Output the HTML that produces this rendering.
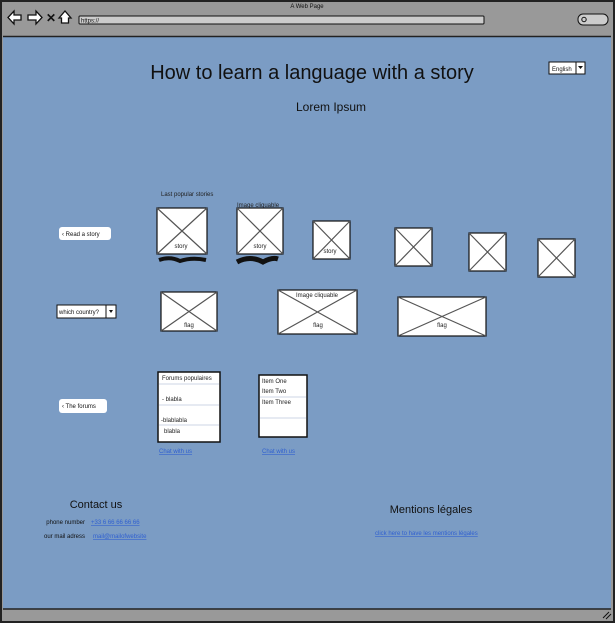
<!DOCTYPE html>
<html><head><meta charset="utf-8"><style>
html,body{margin:0;padding:0;background:#fff;width:615px;height:624px;overflow:hidden}
svg{display:block;font-family:"Liberation Sans",sans-serif}
</style></head><body>
<svg width="615" height="624" viewBox="0 0 615 624">
<rect x="1" y="1" width="613" height="621" fill="#999" stroke="#222" stroke-width="2"/>
<rect x="3" y="37" width="608" height="572" fill="#7b9cc4"/>
<line x1="3" y1="36.5" x2="611" y2="36.5" stroke="#222" stroke-width="1.5"/>
<line x1="3" y1="609" x2="611" y2="609" stroke="#222" stroke-width="1.5"/>
<text x="307" y="8" font-size="6" text-anchor="middle" fill="#111">A Web Page</text>
<path d="M8 17.5 L14 11 L14 15 L21 15 L21 20 L14 20 L14 24 Z" fill="#fff" stroke="#111" stroke-width="1.3"/>
<path d="M42 17.5 L36 11 L36 15 L28 15 L28 20 L36 20 L36 24 Z" fill="#fff" stroke="#111" stroke-width="1.3"/>
<text x="46" y="22" font-size="12" font-weight="bold" fill="#111">✕</text>
<path d="M59 18 L65 11 L71 18 L68.5 18 L68.5 23 L61.5 23 L61.5 18 Z" fill="#fff" stroke="#111" stroke-width="1.3"/>
<rect x="79" y="16" width="405" height="8" rx="1" fill="#ccc" stroke="#111"/>
<text x="81" y="22.5" font-size="6" fill="#111">https://</text>
<rect x="578" y="14" width="30" height="11" rx="5" fill="#ccc" stroke="#111"/>
<circle cx="584" cy="19.5" r="2.2" fill="none" stroke="#111"/>
<text x="312" y="79" font-size="20" text-anchor="middle" fill="#111">How to learn a language with a story</text>
<rect x="549" y="62" width="36" height="12" fill="#fff" stroke="#111"/>
<line x1="576" y1="62" x2="576" y2="74" stroke="#111"/>
<path d="M578 66 L583 66 L580.5 69 Z" fill="#111"/>
<text x="552" y="71" font-size="6" fill="#111">English</text>
<text x="331" y="111" font-size="12" text-anchor="middle" fill="#111">Lorem Ipsum</text>
<text x="161" y="196" font-size="6" fill="#222">Last popular stories</text>
<text x="237" y="207" font-size="6" fill="#222">Image cliquable</text>
<g stroke="#555" stroke-width="1.2" fill="#fff">
<rect x="157" y="208" width="50" height="46" stroke="#111"/><path d="M157 208 L207 254 M207 208 L157 254"/>
<rect x="237" y="208" width="46" height="46" stroke="#111"/><path d="M237 208 L283 254 M283 208 L237 254"/>
<rect x="313" y="221" width="37" height="38" stroke="#111"/><path d="M313 221 L350 259 M350 221 L313 259"/>
<rect x="395" y="228" width="37" height="38" stroke="#111"/><path d="M395 228 L432 266 M432 228 L395 266"/>
<rect x="469" y="233" width="37" height="38" stroke="#111"/><path d="M469 233 L506 271 M506 233 L469 271"/>
<rect x="538" y="239" width="37" height="38" stroke="#111"/><path d="M538 239 L575 277 M575 239 L538 277"/>
<rect x="161" y="292" width="56" height="39" stroke="#111"/><path d="M161 292 L217 331 M217 292 L161 331"/>
<rect x="278" y="290" width="79" height="44" stroke="#111"/><path d="M278 290 L357 334 M357 290 L278 334"/>
<rect x="398" y="297" width="88" height="39" stroke="#111"/><path d="M398 297 L486 336 M486 297 L398 336"/>
</g>
<g font-size="6" fill="#222" text-anchor="middle">
<text x="181" y="248">story</text><text x="260" y="248">story</text><text x="330" y="253">story</text>
<text x="189" y="327">flag</text><text x="318" y="327">flag</text><text x="442" y="327">flag</text>
<text x="317" y="297">Image cliquable</text>
</g>
<path d="M159 260 Q170 256 180 261 Q192 257 206 260" stroke="#111" stroke-width="4" fill="none"/>
<path d="M237 262 Q250 255 263 262 Q272 257 278 259" stroke="#111" stroke-width="5" fill="none"/>
<rect x="59" y="227" width="52" height="13" rx="3" fill="#fff"/>
<text x="62" y="236" font-size="6" fill="#111">‹ Read a story</text>
<rect x="57" y="305" width="59" height="13" fill="#fff" stroke="#111"/>
<line x1="106" y1="305" x2="106" y2="318" stroke="#111"/>
<path d="M109 310 L113 310 L111 313 Z" fill="#111"/>
<text x="59" y="314" font-size="6" fill="#111">which country?</text>
<rect x="59" y="399" width="48" height="14" rx="3" fill="#fff"/>
<text x="62" y="408" font-size="6" fill="#111">‹ The forums</text>
<rect x="158" y="372" width="62" height="70" fill="#fff" stroke="#111" stroke-width="1.5"/>
<g stroke="#cdd6e4"><line x1="159" y1="384" x2="219" y2="384"/><line x1="159" y1="405" x2="219" y2="405"/><line x1="159" y1="425" x2="219" y2="425"/></g>
<g font-size="6" fill="#222"><text x="162" y="380">Forums populaires</text><text x="162" y="401">- blabla</text><text x="161" y="422">-blablabla</text><text x="164" y="433">blabla</text></g>
<rect x="259" y="375" width="48" height="62" fill="#fff" stroke="#111" stroke-width="1.5"/>
<g stroke="#cdd6e4"><line x1="260" y1="397" x2="306" y2="397"/><line x1="260" y1="418" x2="306" y2="418"/></g>
<g font-size="6" fill="#222"><text x="262" y="383">Item One</text><text x="262" y="393">Item Two</text><text x="262" y="404">Item Three</text></g>
<g font-size="6" fill="#3060d0" text-decoration="underline"><text x="159" y="453">Chat with us</text><text x="262" y="453">Chat with us</text>
<text x="91" y="524">+33 6 66 66 66 66</text><text x="93" y="538">mail@mailofwebsite</text>
<text x="375" y="535">click here to have les mentions légales</text></g>
<text x="96" y="508" font-size="11" text-anchor="middle" fill="#111">Contact us</text>
<text x="431" y="513" font-size="11" text-anchor="middle" fill="#111">Mentions légales</text>
<g font-size="6" fill="#111" text-anchor="end"><text x="85" y="524">phone number</text><text x="85" y="538">our mail adress</text></g>
<path d="M603 618 L609 612 M606 619 L611 614" stroke="#111" stroke-width="1"/>
</svg>
</body></html>
